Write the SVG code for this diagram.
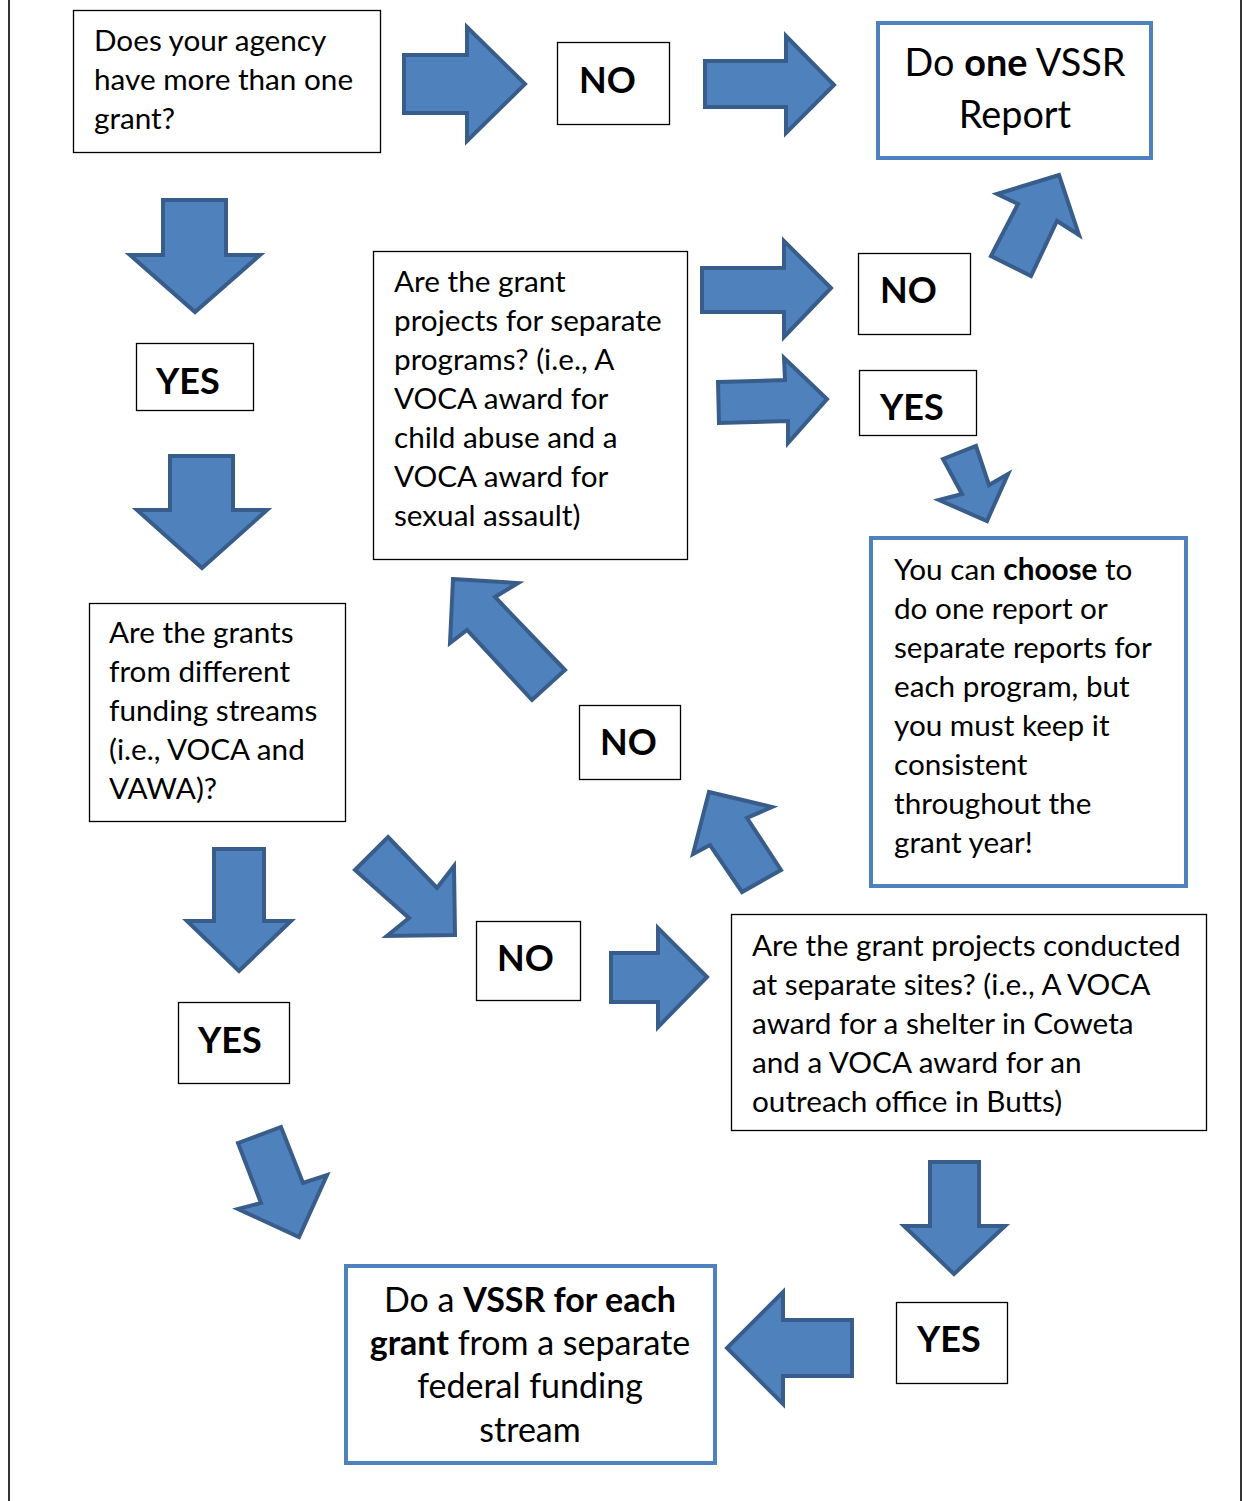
<svg xmlns="http://www.w3.org/2000/svg" width="1246" height="1501" viewBox="0 0 1246 1501">
<style>
.bg{fill:#ffffff}
.page{stroke:#000;stroke-width:1.6;fill:none}
.box{fill:#fff;stroke:#000;stroke-width:1.3}
.term{fill:#fff;stroke:#4f81bd;stroke-width:4}
.arrow{fill:#4f81bd;stroke:#385d8a;stroke-width:4;stroke-linejoin:miter}
.t{font-family:Lato,"Liberation Sans",sans-serif;font-size:29.7px;fill:#000}
.lbl{font-family:Lato,"Liberation Sans",sans-serif;font-size:36px;font-weight:bold;fill:#000}
.big{font-family:Lato,"Liberation Sans",sans-serif;font-size:37.8px;fill:#000;text-anchor:middle}
.fin{font-family:Lato,"Liberation Sans",sans-serif;font-size:34px;fill:#000;text-anchor:middle}
.b{font-weight:bold}
</style>
<rect class="bg" x="0" y="0" width="1246" height="1501"/>
<line class="page" x1="9" y1="0" x2="9" y2="1501"/>
<line class="page" x1="1241" y1="0" x2="1241" y2="1501"/>

<g id="connectors">
  <polygon class="arrow" points="404,55 467,55 467,27 525,84 467,141 467,113 404,113"/>
  <polygon class="arrow" points="705,61 786,61 786,36 834,85 786,133 786,107 705,107"/>
  <polygon class="arrow" points="1059,175 1079,235 1057,221 1031,276 991,256 1018,204 997,194"/>
  <polygon class="arrow" points="702,268 784,268 784,241 831,288 784,337 784,312 702,312"/>
  <polygon class="arrow" points="718,382 785,380 784,358 827,399 788,443 788,421 719,423"/>
  <polygon class="arrow" points="943,459 976,446 989,485 1008,474 987,521 939,500 962,494"/>
  <polygon class="arrow" points="163,200 226,200 226,255 260,255 195,312 130,255 163,255"/>
  <polygon class="arrow" points="170,456 233,456 233,510 267,510 202,568 137,510 170,510"/>
  <polygon class="arrow" points="214,849 264,849 264,921 291,921 239,971 187,921 214,921"/>
  <polygon class="arrow" points="238,1143 281,1127 303,1183 327,1175 299,1237 238,1209 261,1203"/>
  <polygon class="arrow" points="453,579 518,583 495,597 565,670 532,700 467,630 450,643"/>
  <polygon class="arrow" points="709,792 772,807 747,818 781,870 742,892 710,845 693,854"/>
  <polygon class="arrow" points="388,837 437,888 454,866 455,935 387,936 409,918 355,870"/>
  <polygon class="arrow" points="611,953 658,953 658,928 707,977 658,1027 658,1002 611,1002"/>
  <polygon class="arrow" points="930,1162 979,1162 979,1226 1005,1226 954,1274 904,1226 930,1226"/>
  <polygon class="arrow" points="852,1320 783,1320 783,1292 727,1348 783,1404 783,1376 852,1376"/>
</g>

<g id="q1">
  <rect class="box" x="73.5" y="10.5" width="307" height="142"/>
  <text class="t" x="94" y="51">Does your agency</text>
  <text class="t" x="94" y="90">have more than one</text>
  <text class="t" x="94" y="129">grant?</text>
</g>
<g id="no1">
  <rect class="box" x="557.5" y="42.5" width="112" height="82"/>
  <text class="lbl" x="579" y="93">NO</text>
</g>
<g id="one-report">
  <rect class="term" x="878" y="23" width="273" height="135"/>
  <text class="big" x="1015" y="76">Do <tspan class="b">one</tspan> VSSR</text>
  <text class="big" x="1015" y="128">Report</text>
</g>
<g id="yes1">
  <rect class="box" x="136.5" y="343.5" width="117" height="67"/>
  <text class="lbl" x="156" y="394">YES</text>
</g>
<g id="q3">
  <rect class="box" x="373.5" y="251.5" width="314" height="308"/>
  <text class="t" x="394" y="292">Are the grant</text>
  <text class="t" x="394" y="331">projects for separate</text>
  <text class="t" x="394" y="370">programs? (i.e., A</text>
  <text class="t" x="394" y="409">VOCA award for</text>
  <text class="t" x="394" y="448">child abuse and a</text>
  <text class="t" x="394" y="487">VOCA award for</text>
  <text class="t" x="394" y="526">sexual assault)</text>
</g>
<g id="no2">
  <rect class="box" x="858.5" y="253.5" width="112" height="81"/>
  <text class="lbl" x="880" y="303">NO</text>
</g>
<g id="yes2">
  <rect class="box" x="859.5" y="370.5" width="117" height="65"/>
  <text class="lbl" x="880" y="420">YES</text>
</g>
<g id="choose">
  <rect class="term" x="871" y="538" width="315" height="348"/>
  <text class="t" x="894" y="580">You can <tspan class="b">choose</tspan> to</text>
  <text class="t" x="894" y="619">do one report or</text>
  <text class="t" x="894" y="658">separate reports for</text>
  <text class="t" x="894" y="697">each program, but</text>
  <text class="t" x="894" y="736">you must keep it</text>
  <text class="t" x="894" y="775">consistent</text>
  <text class="t" x="894" y="814">throughout the</text>
  <text class="t" x="894" y="853">grant year!</text>
</g>
<g id="q2">
  <rect class="box" x="89.5" y="603.5" width="256" height="218"/>
  <text class="t" x="109" y="643">Are the grants</text>
  <text class="t" x="109" y="682">from different</text>
  <text class="t" x="109" y="721">funding streams</text>
  <text class="t" x="109" y="760">(i.e., VOCA and</text>
  <text class="t" x="109" y="799">VAWA)?</text>
</g>
<g id="no3">
  <rect class="box" x="579.5" y="705.5" width="101" height="74"/>
  <text class="lbl" x="600" y="755">NO</text>
</g>
<g id="no4">
  <rect class="box" x="476.5" y="921.5" width="104" height="79"/>
  <text class="lbl" x="497" y="971">NO</text>
</g>
<g id="yes3">
  <rect class="box" x="178.5" y="1002.5" width="111" height="81"/>
  <text class="lbl" x="198" y="1053">YES</text>
</g>
<g id="q4">
  <rect class="box" x="731.5" y="914.5" width="475" height="216"/>
  <text class="t" x="752" y="956">Are the grant projects conducted</text>
  <text class="t" x="752" y="995">at separate sites? (i.e., A VOCA</text>
  <text class="t" x="752" y="1034">award for a shelter in Coweta</text>
  <text class="t" x="752" y="1073">and a VOCA award for an</text>
  <text class="t" x="752" y="1112">outreach office in Butts)</text>
</g>
<g id="yes4">
  <rect class="box" x="896.5" y="1302.5" width="111" height="81"/>
  <text class="lbl" x="917" y="1352">YES</text>
</g>
<g id="each-report">
  <rect class="term" x="346" y="1266" width="369" height="197"/>
  <text class="fin" x="530" y="1312">Do a <tspan class="b">VSSR for each</tspan></text>
  <text class="fin" x="530" y="1355"><tspan class="b">grant</tspan> from a separate</text>
  <text class="fin" x="530" y="1398">federal funding</text>
  <text class="fin" x="530" y="1442">stream</text>
</g>
</svg>
